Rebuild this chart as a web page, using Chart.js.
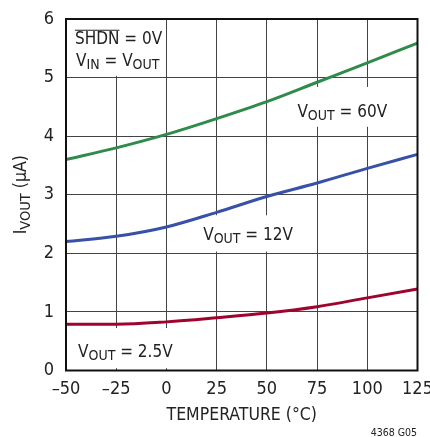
<!DOCTYPE html>
<html>
<head>
<meta charset="utf-8">
<script src="https://cdn.jsdelivr.net/npm/chart.js@4/dist/chart.umd.min.js"></script>
<style>
  html, body { margin: 0; padding: 0; background: #fff; }
  #c { display: block; }
</style>
</head>
<body>
<canvas id="c" width="430" height="437"></canvas>
<script>
// Shutdown output current vs temperature
const temperatures = [-50, -25, 0, 25, 50, 75, 100, 125];
const iout60V = [3.60, 3.80, 4.03, 4.30, 4.59, 4.92, 5.25, 5.59];
const iout12V = [2.20, 2.29, 2.45, 2.70, 2.97, 3.20, 3.45, 3.69];
const iout2V5 = [0.79, 0.79, 0.83, 0.90, 0.98, 1.09, 1.24, 1.39];
const xTickValues = [-50, -25, 0, 25, 50, 75, 100, 125];
const xTickLabels = ['\u201350', '\u201325', '0', '25', '50', '75', '100', '125'];
const yTickValues = [0, 1, 2, 3, 4, 5, 6];

const FONT = '"Liberation Sans Narrow", "DejaVu Sans Condensed", "Liberation Sans", sans-serif';
const LABEL_SIZE = 17;

// Curve labels: text runs (normal / subscript / overlined), anchored in data units
const curveLabels = [
  { x: -45.5, y: 5.57, runs: [{ t: 'SHDN', over: true }, { t: ' = 0V' }] },
  { x: -45.0, y: 5.20, runs: [{ t: 'V' }, { t: 'IN', sub: true }, { t: ' = V' }, { t: 'OUT', sub: true }] },
  { x: 65.2, y: 4.33, runs: [{ t: 'V' }, { t: 'OUT', sub: true }, { t: ' = 60V' }] },
  { x: 18.3, y: 2.235, runs: [{ t: 'V' }, { t: 'OUT', sub: true }, { t: ' = 12V' }] },
  { x: -44.0, y: 0.235, runs: [{ t: 'V' }, { t: 'OUT', sub: true }, { t: ' = 2.5V' }] }
];
// White panels behind the labels (x0, x1, y0, y1 in data units)
const labelPanels = [
  [-50, -2, 5.03, 6],
  [63, 109.5, 4.16, 4.84],
  [14.8, 62.7, 2.03, 2.65],
  [-48, 2.8, 0.04, 0.725]
];

function drawRuns(ctx, x, y, runs, size) {
  let cx = x;
  runs.forEach(r => {
    const fs = r.sub ? size - 3 : size;
    ctx.font = fs + 'px ' + FONT;
    const w = ctx.measureText(r.t).width;
    const yy = r.sub ? y + 3.5 : y;
    ctx.fillText(r.t, cx, yy);
    if (r.over) {
      ctx.save();
      ctx.lineWidth = 1.2;
      ctx.strokeStyle = ctx.fillStyle;
      ctx.beginPath();
      ctx.moveTo(cx, y - size * 0.82);
      ctx.lineTo(cx + w, y - size * 0.82);
      ctx.stroke();
      ctx.restore();
    }
    cx += w;
  });
  return cx - x;
}

const labelPlugin = {
  id: 'curveLabels',
  beforeDatasetsDraw(chart) {
    const { ctx, scales: { x, y } } = chart;
    ctx.save();
    ctx.fillStyle = '#fff';
    labelPanels.forEach(([a, b, c, d]) => {
      const px0 = x.getPixelForValue(a), px1 = x.getPixelForValue(b);
      const py0 = y.getPixelForValue(d), py1 = y.getPixelForValue(c);
      ctx.fillRect(px0, py0, px1 - px0, py1 - py0);
    });
    ctx.fillStyle = '#222';
    ctx.textBaseline = 'alphabetic';
    ctx.textAlign = 'left';
    curveLabels.forEach(l => {
      drawRuns(ctx, x.getPixelForValue(l.x), y.getPixelForValue(l.y), l.runs, LABEL_SIZE);
    });
    ctx.restore();
  },
  afterDraw(chart) {
    const { ctx, chartArea: a } = chart;
    ctx.save();
    // plot frame
    ctx.strokeStyle = '#111';
    ctx.lineWidth = 2;
    ctx.strokeRect(a.left, a.top, a.right - a.left, a.bottom - a.top);
    ctx.fillStyle = '#222';
    // x-axis title
    ctx.font = '17.5px ' + FONT;
    ctx.textAlign = 'center';
    ctx.textBaseline = 'alphabetic';
    ctx.fillText('TEMPERATURE (\u00B0C)', (a.left + a.right) / 2, 420);
    // y-axis title (rotated, with subscript)
    const runs = [{ t: 'I' }, { t: 'VOUT', sub: true }, { t: ' (\u03BCA)' }];
    ctx.textAlign = 'left';
    let w = 0;
    runs.forEach(r => {
      ctx.font = (r.sub ? 14.5 : 17.5) + 'px ' + FONT;
      w += ctx.measureText(r.t).width;
    });
    ctx.translate(26, (a.top + a.bottom) / 2);
    ctx.rotate(-Math.PI / 2);
    drawRuns(ctx, -w / 2, 0, runs, 17.5);
    ctx.restore();
    // figure id
    ctx.save();
    ctx.fillStyle = '#222';
    ctx.font = '10.5px ' + FONT;
    ctx.textAlign = 'right';
    ctx.textBaseline = 'alphabetic';
    ctx.fillText('4368 G05', 417, 436);
    ctx.restore();
  }
};

new Chart(document.getElementById('c'), {
  type: 'line',
  data: {
    datasets: [
      { label: 'VOUT = 60V', data: temperatures.map((t, i) => ({ x: t, y: iout60V[i] })), borderColor: '#2f8b4b' },
      { label: 'VOUT = 12V', data: temperatures.map((t, i) => ({ x: t, y: iout12V[i] })), borderColor: '#3651a7' },
      { label: 'VOUT = 2.5V', data: temperatures.map((t, i) => ({ x: t, y: iout2V5[i] })), borderColor: '#9e042e' }
    ].map(d => Object.assign(d, {
      borderWidth: 3,
      pointRadius: 0,
      fill: false,
      cubicInterpolationMode: 'monotone'
    }))
  },
  options: {
    responsive: false,
    devicePixelRatio: 1,
    animation: false,
    layout: { padding: { top: 19, right: 12.5, left: 0, bottom: 0 } },
    plugins: { legend: { display: false }, tooltip: { enabled: false } },
    scales: {
      x: {
        type: 'linear',
        min: -50, max: 125,
        afterBuildTicks: s => { s.ticks = xTickValues.map(v => ({ value: v })); },
        afterFit: s => { s.height = 66.5; s.paddingLeft = 0; s.paddingRight = 0; },
        ticks: {
          color: '#222',
          font: { family: FONT, size: 18 },
          padding: 8,
          maxRotation: 0,
          callback: (v) => xTickLabels[xTickValues.indexOf(v)]
        },
        grid: { color: '#444', lineWidth: 1, drawTicks: false },
        border: { display: false }
      },
      y: {
        min: 0, max: 6,
        afterBuildTicks: s => { s.ticks = yTickValues.map(v => ({ value: v })); },
        afterFit: s => { s.width = 66; s.paddingTop = 0; s.paddingBottom = 0; },
        ticks: {
          color: '#222',
          font: { family: FONT, size: 18 },
          padding: 12
        },
        grid: { color: '#444', lineWidth: 1, drawTicks: false },
        border: { display: false }
      }
    }
  },
  plugins: [labelPlugin]
});
</script>
</body>
</html>
